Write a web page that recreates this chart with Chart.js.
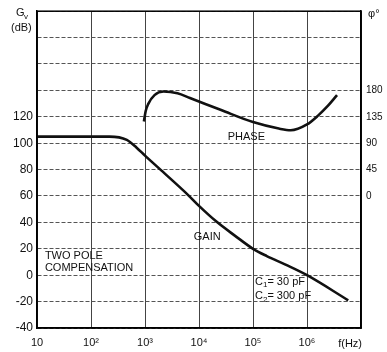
<!DOCTYPE html>
<html lang="en">
<head>
  <meta charset="UTF-8" />
  <title>Two pole compensation - gain and phase</title>
  <script src="https://cdn.jsdelivr.net/npm/chart.js"></script>
  <style>
    body { margin: 0; background: #fff; }
    #wrap { width: 387px; height: 352px; }
  </style>
</head>
<body>
  <div id="wrap"><canvas id="bode" width="387" height="352"></canvas></div>

  <script>
    // gain curve (Hz, dB)
    const gainFreq = [10, 100, 220, 460, 700, 1000, 2000, 6300, 10000, 21000, 46000, 100000, 180000, 400000, 1000000, 5800000];
    const gainDb   = [105, 105, 105, 102.5, 96.6, 90.6, 79.4, 60.7, 52.5, 40.6, 30, 20, 14.5, 8, 0, -19];

    // phase curve (Hz, degrees)
    const phaseFreq = [955, 1030, 1150, 1500, 2200, 4000, 6800, 25000, 100000, 300000, 500000, 1000000, 1600000, 2400000, 3600000];
    const phaseDeg  = [127, 145, 157, 172, 178, 175, 167, 147, 126, 115, 112, 122, 137, 153, 172];

    const decadeTicks  = [10, 100, 1000, 10000, 100000, 1000000, 10000000];
    const decadeLabels = ['10', '10²', '10³', '10⁴', '10⁵', '10⁶', ''];

    const gainLabels  = [-40, -20, 0, 20, 40, 60, 80, 100, 120];
    const phaseLabels = [0, 45, 90, 135, 180];

    const toPoints = (xs, ys) => xs.map((x, i) => ({ x: x, y: ys[i] }));

    Chart.defaults.font.family = "'Liberation Sans', Arial, sans-serif";
    Chart.defaults.color = '#111';

    // text written on the chart (positions in data units)
    const notes = [
      { text: 'GAIN', f: 8000, db: 29 },
      { text: 'PHASE', f: 34000, db: 105 },
      { text: 'TWO POLE', f: 14, db: 14.5 },
      { text: 'COMPENSATION', f: 14, db: 5.5 }
    ];

    const annotate = {
      id: 'annotate',
      afterDraw(chart) {
        const ctx = chart.ctx;
        const a = chart.chartArea;
        const x = chart.scales.x, y = chart.scales.y;
        ctx.save();
        // frame
        ctx.strokeStyle = '#000';
        ctx.lineWidth = 1.5;
        ctx.strokeRect(a.left, a.top, a.right - a.left, a.bottom - a.top);

        ctx.fillStyle = '#111';
        ctx.textBaseline = 'middle';
        ctx.textAlign = 'left';
        ctx.font = "11px 'Liberation Sans', Arial, sans-serif";
        notes.forEach(n => ctx.fillText(n.text, x.getPixelForValue(n.f), y.getPixelForValue(n.db)));

        // capacitor values with subscripts
        const capLine = (num, val, db) => {
          let px = x.getPixelForValue(100000) + 2;
          const py = y.getPixelForValue(db);
          ctx.font = "11px 'Liberation Sans', Arial, sans-serif";
          ctx.fillText('C', px, py);
          px += ctx.measureText('C').width;
          ctx.font = "8px 'Liberation Sans', Arial, sans-serif";
          ctx.fillText(num, px, py + 3);
          px += ctx.measureText(num).width;
          ctx.font = "11px 'Liberation Sans', Arial, sans-serif";
          ctx.fillText('= ' + val, px, py);
        };
        capLine('1', '30 pF', -5);
        capLine('2', '300 pF', -16);

        // axis titles
        ctx.textAlign = 'left';
        ctx.font = "11px 'Liberation Sans', Arial, sans-serif";
        ctx.fillText('G', 16, 13);
        ctx.font = "8px 'Liberation Sans', Arial, sans-serif";
        ctx.fillText('v', 24, 17);
        ctx.font = "11px 'Liberation Sans', Arial, sans-serif";
        ctx.fillText('(dB)', 11, 28);
        ctx.fillText('φ°', a.right + 7, 14);
        ctx.textAlign = 'right';
        ctx.fillText('f(Hz)', a.right + 1, 344);
        ctx.restore();
      }
    };

    new Chart(document.getElementById('bode'), {
      type: 'line',
      data: {
        datasets: [
          {
            label: 'GAIN',
            data: toPoints(gainFreq, gainDb),
            yAxisID: 'y',
            borderColor: '#111',
            borderWidth: 2.6,
            pointRadius: 0,
            cubicInterpolationMode: 'monotone'
          },
          {
            label: 'PHASE',
            data: toPoints(phaseFreq, phaseDeg),
            yAxisID: 'y2',
            borderColor: '#111',
            borderWidth: 2.6,
            pointRadius: 0,
            cubicInterpolationMode: 'monotone'
          }
        ]
      },
      options: {
        responsive: false,
        animation: false,
        layout: { padding: { top: 8, left: 0, right: 0, bottom: 0 } },
        plugins: {
          legend: { display: false },
          tooltip: { enabled: false }
        },
        scales: {
          x: {
            type: 'logarithmic',
            min: 10,
            max: 10000000,
            afterBuildTicks: scale => { scale.ticks = decadeTicks.map(v => ({ value: v })); },
            afterFit: scale => { scale.height = 24; },
            ticks: {
              padding: 8,
              maxRotation: 0,
              autoSkip: false,
              font: { size: 11 },
              callback: (v) => {
                const i = decadeTicks.indexOf(v);
                return i >= 0 ? decadeLabels[i] : '';
              }
            },
            grid: { color: '#444', lineWidth: 1, drawTicks: false },
            border: { color: '#000', width: 1.5 }
          },
          y: {
            position: 'left',
            min: -40,
            max: 200,
            afterFit: scale => { scale.width = 37; },
            ticks: {
              stepSize: 20,
              padding: 4,
              font: { size: 12 },
              callback: v => gainLabels.includes(v) ? v : ''
            },
            grid: { color: '#555', lineWidth: 1, drawTicks: false },
            border: { color: '#000', width: 1.5, dash: [4, 2] }
          },
          y2: {
            position: 'right',
            min: -225,
            max: 315,
            afterFit: scale => { scale.width = 26; },
            ticks: {
              stepSize: 45,
              padding: 5,
              font: { size: 10 },
              callback: v => phaseLabels.includes(v) ? v : ''
            },
            grid: { drawOnChartArea: false, drawTicks: false },
            border: { color: '#000', width: 1.5 }
          }
        }
      },
      plugins: [annotate]
    });
  </script>
</body>
</html>
